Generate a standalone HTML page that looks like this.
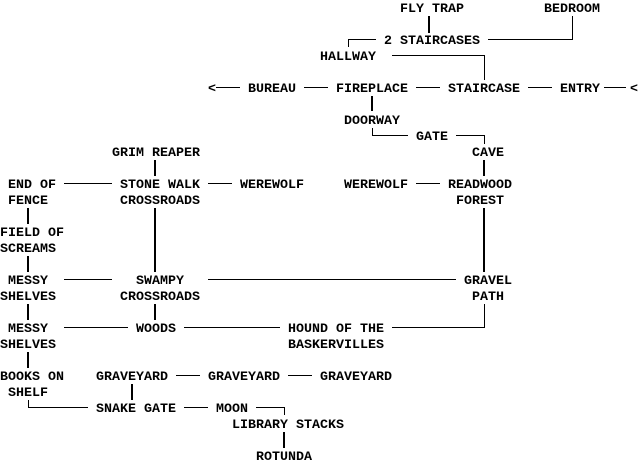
<!DOCTYPE html>
<html><head><meta charset="utf-8"><style>
html,body{margin:0;padding:0;background:#fff;width:640px;height:465px;overflow:hidden}
#c{position:relative;width:640px;height:465px}
.t{position:absolute;font-family:"Liberation Mono",monospace;font-weight:bold;font-size:13.33px;line-height:16px;height:16px;white-space:pre;color:#000;margin-top:2px}
svg{position:absolute;left:0;top:0}
</style></head><body><div id="c">
<svg width="640" height="465" stroke="#000" fill="none">
<g stroke-width="1" shape-rendering="crispEdges">
<line x1="429" y1="16" x2="429" y2="33" stroke-width="2"/>
<polyline points="376,39.5 348.5,39.5 348.5,47"/>
<polyline points="488,39.5 572.5,39.5 572.5,16"/>
<polyline points="392,55.5 484.5,55.5 484.5,80"/>
<line x1="216" y1="87.5" x2="240" y2="87.5"/>
<line x1="304" y1="87.5" x2="328" y2="87.5"/>
<line x1="416" y1="87.5" x2="440" y2="87.5"/>
<line x1="528" y1="87.5" x2="552" y2="87.5"/>
<line x1="604" y1="87.5" x2="626" y2="87.5"/>
<line x1="372" y1="96" x2="372" y2="111" stroke-width="2"/>
<polyline points="372.5,128 372.5,135.5 408,135.5"/>
<polyline points="456,135.5 484.5,135.5 484.5,144"/>
<line x1="484" y1="160" x2="484" y2="176" stroke-width="2"/>
<line x1="484" y1="208" x2="484" y2="272" stroke-width="2"/>
<polyline points="484.5,304 484.5,327.5 392,327.5"/>
<line x1="64" y1="183.5" x2="112" y2="183.5"/>
<line x1="208" y1="183.5" x2="232" y2="183.5"/>
<line x1="416" y1="183.5" x2="440" y2="183.5"/>
<line x1="155" y1="160" x2="155" y2="176" stroke-width="2"/>
<line x1="155" y1="208" x2="155" y2="272" stroke-width="2"/>
<line x1="155" y1="304" x2="155" y2="320" stroke-width="2"/>
<line x1="28" y1="208" x2="28" y2="224" stroke-width="2"/>
<line x1="28" y1="256" x2="28" y2="272" stroke-width="2"/>
<line x1="28" y1="304" x2="28" y2="320" stroke-width="2"/>
<line x1="28" y1="352" x2="28" y2="368" stroke-width="2"/>
<polyline points="28.5,400 28.5,407.5 88,407.5"/>
<line x1="64" y1="279.5" x2="112" y2="279.5"/>
<line x1="208" y1="279.5" x2="456" y2="279.5"/>
<line x1="64" y1="327.5" x2="128" y2="327.5"/>
<line x1="184" y1="327.5" x2="280" y2="327.5"/>
<line x1="176" y1="375.5" x2="200" y2="375.5"/>
<line x1="288" y1="375.5" x2="312" y2="375.5"/>
<line x1="132" y1="384" x2="132" y2="400" stroke-width="2"/>
<line x1="184" y1="407.5" x2="208" y2="407.5"/>
<polyline points="256,407.5 284.5,407.5 284.5,415"/>
<line x1="284" y1="432" x2="284" y2="448" stroke-width="2"/>
</g></svg>
<div class="t" style="left:400px;top:0px">FLY TRAP</div>
<div class="t" style="left:544px;top:0px">BEDROOM</div>
<div class="t" style="left:384px;top:32px">2 STAIRCASES</div>
<div class="t" style="left:320px;top:48px">HALLWAY</div>
<div class="t" style="left:208px;top:80px">&lt;</div>
<div class="t" style="left:248px;top:80px">BUREAU</div>
<div class="t" style="left:336px;top:80px">FIREPLACE</div>
<div class="t" style="left:448px;top:80px">STAIRCASE</div>
<div class="t" style="left:560px;top:80px">ENTRY</div>
<div class="t" style="left:630px;top:80px">&lt;</div>
<div class="t" style="left:344px;top:112px">DOORWAY</div>
<div class="t" style="left:416px;top:128px">GATE</div>
<div class="t" style="left:472px;top:144px">CAVE</div>
<div class="t" style="left:112px;top:144px">GRIM REAPER</div>
<div class="t" style="left:8px;top:176px">END OF</div>
<div class="t" style="left:8px;top:192px">FENCE</div>
<div class="t" style="left:120px;top:176px">STONE WALK</div>
<div class="t" style="left:120px;top:192px">CROSSROADS</div>
<div class="t" style="left:240px;top:176px">WEREWOLF</div>
<div class="t" style="left:344px;top:176px">WEREWOLF</div>
<div class="t" style="left:448px;top:176px">READWOOD</div>
<div class="t" style="left:456px;top:192px">FOREST</div>
<div class="t" style="left:0px;top:224px">FIELD OF</div>
<div class="t" style="left:0px;top:240px">SCREAMS</div>
<div class="t" style="left:8px;top:272px">MESSY</div>
<div class="t" style="left:0px;top:288px">SHELVES</div>
<div class="t" style="left:136px;top:272px">SWAMPY</div>
<div class="t" style="left:120px;top:288px">CROSSROADS</div>
<div class="t" style="left:464px;top:272px">GRAVEL</div>
<div class="t" style="left:472px;top:288px">PATH</div>
<div class="t" style="left:8px;top:320px">MESSY</div>
<div class="t" style="left:0px;top:336px">SHELVES</div>
<div class="t" style="left:136px;top:320px">WOODS</div>
<div class="t" style="left:288px;top:320px">HOUND OF THE</div>
<div class="t" style="left:288px;top:336px">BASKERVILLES</div>
<div class="t" style="left:0px;top:368px">BOOKS ON</div>
<div class="t" style="left:8px;top:384px">SHELF</div>
<div class="t" style="left:96px;top:368px">GRAVEYARD</div>
<div class="t" style="left:208px;top:368px">GRAVEYARD</div>
<div class="t" style="left:320px;top:368px">GRAVEYARD</div>
<div class="t" style="left:96px;top:400px">SNAKE GATE</div>
<div class="t" style="left:216px;top:400px">MOON</div>
<div class="t" style="left:232px;top:416px">LIBRARY STACKS</div>
<div class="t" style="left:256px;top:448px">ROTUNDA</div>
</div></body></html>
